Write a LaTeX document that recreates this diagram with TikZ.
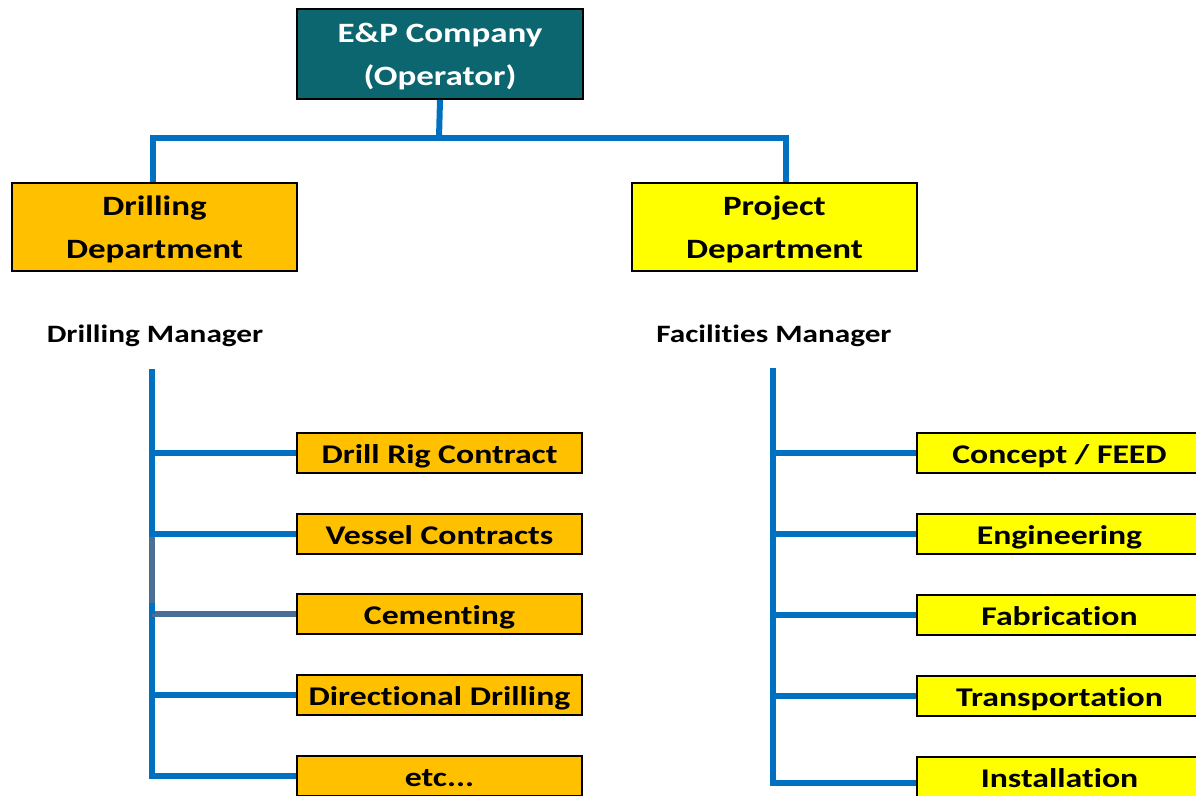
\documentclass[tikz,border=0pt]{standalone}
\usepackage{fontspec}
\newfontfamily\lbl{Carlito}[FakeStretch=1.25, Ligatures=NoCommon]
\definecolor{tealbox}{HTML}{0B6670}
\definecolor{orangebox}{HTML}{FFC000}
\definecolor{yellowbox}{HTML}{FFFF00}
\definecolor{linkblue}{HTML}{0070C0}
\definecolor{linkgray}{HTML}{4A6F97}
\begin{document}
\begin{tikzpicture}[x=1pt,y=-1pt,
  basebox/.style={draw=black, line width=2pt, inner sep=0pt, anchor=north west, align=center, text=black},
  bigbox/.style={basebox, minimum width=285pt, minimum height=88pt, text depth=0pt, font=\lbl\bfseries\fontsize{28}{43}\selectfont},
  smallbox/.style={basebox, minimum width=285pt, minimum height=40pt, text height=20pt, text depth=0pt, font=\lbl\bfseries\fontsize{27}{30}\selectfont},
  orange/.style={fill=orangebox},
  yellow/.style={fill=yellowbox},
  mgr/.style={anchor=base, inner sep=0pt, font=\lbl\bfseries\fontsize{25}{30}\selectfont},
  conn/.style={draw=linkblue, line width=6pt, line join=miter},
  gconn/.style={draw=linkgray, line width=6pt}
]
\useasboundingbox (0,0) rectangle (1196,795);
\clip (0,0) rectangle (1196,795);

% top
\node[bigbox, fill=tealbox, text=white, minimum width=286pt, minimum height=90pt] (top) at (296,8) {E\&P Company\\(Operator)};
\node[bigbox, orange] (dd) at (11,182) {Drilling\\Department};
\node[bigbox, yellow] (pd) at (631,182) {Project\\Department};

\coordinate (hub) at (439,138);
\draw[conn] ([xshift=-2pt]dd.north) |- (hub) -| ([xshift=11pt]pd.north);
\draw[conn] (top.south) -- (hub);

% managers
\node[mgr] (dm) at (155,342) {Drilling Manager};
\node[mgr] (fm) at (774,342) {Facilities Manager};

% left boxes
\node[smallbox, orange] (l1) at (296,432) {Drill Rig Contract};
\node[smallbox, orange] (l2) at (296,513) {Vessel Contracts};
\node[smallbox, orange] (l3) at (296,593) {Cementing};
\node[smallbox, orange] (l4) at (296,674) {Directional Drilling};
\node[smallbox, orange] (l5) at (296,755) {etc...};

% right boxes (run past the right edge)
\node[smallbox, yellow] (r1) at (916,432) {Concept / FEED};
\node[smallbox, yellow] (r2) at (916,513) {Engineering};
\node[smallbox, yellow] (r3) at (916,594) {Fabrication};
\node[smallbox, yellow] (r4) at (916,675) {Transportation};
\node[smallbox, yellow] (r5) at (916,756) {Installation};

% left connectors
\coordinate (dv) at (152,369);
\draw[conn] (dv) |- (l5.west);
\draw[conn] (dv) |- (l1.west);
\draw[conn] (dv) |- (l2.west);
\draw[conn] (dv) |- (l4.west);
\coordinate (g1) at (152,537);
\coordinate (g2) at (152,603);
\draw[gconn] (g1) -- (g2);
\draw[gconn] (l3.west -| dv) -- (l3.west);
\draw[conn] (g2) -- (l3.west -| dv);

% right connectors
\coordinate (fv) at (773,368);
\draw[conn] (fv) |- ([yshift=-6pt]r5.west);
\draw[conn] (fv) |- (r1.west);
\draw[conn] (fv) |- (r2.west);
\draw[conn] (fv) |- (r3.west);
\draw[conn] (fv) |- (r4.west);
\end{tikzpicture}
\end{document}
